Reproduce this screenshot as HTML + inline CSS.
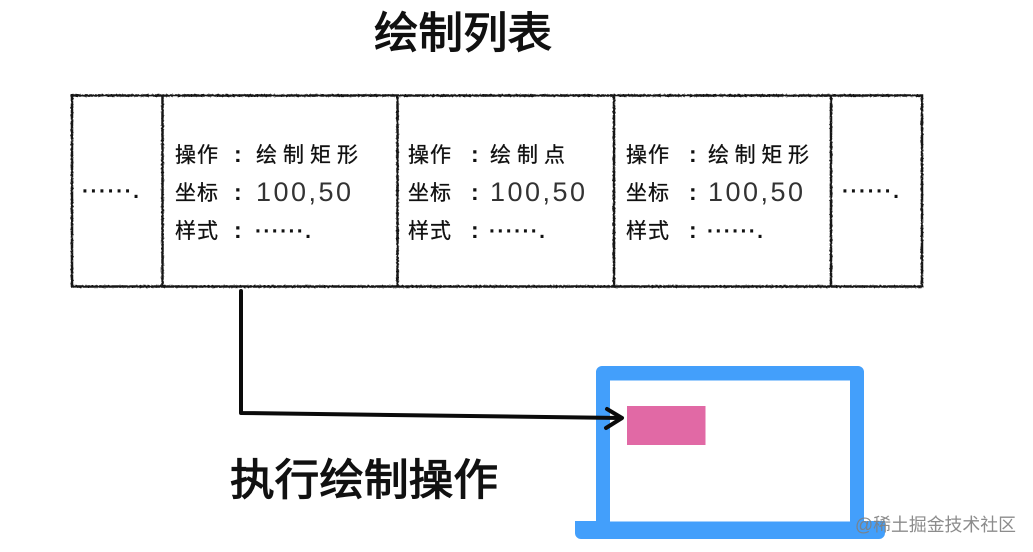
<!DOCTYPE html>
<html lang="zh">
<head>
<meta charset="utf-8">
<style>
html,body{margin:0;padding:0;background:#fff;width:1033px;height:552px;overflow:hidden}
svg{display:block}
text{font-family:"Liberation Sans","Noto Sans CJK SC","WenQuanYi Zen Hei",sans-serif;fill:#111}
.t{font-size:43px;font-weight:400;stroke:#111;stroke-width:1.2px}
.c{font-size:21px;stroke:#111;stroke-width:.3px}
.k{font-size:23px;font-weight:700}
.n{font-size:27px;font-weight:400;fill:#333}
.d{font-size:21px;font-weight:700}
</style>
</head>
<body>
<svg width="1033" height="552" viewBox="0 0 1033 552" xmlns="http://www.w3.org/2000/svg">
<defs>
<filter id="rough" x="-2%" y="-2%" width="104%" height="104%">
<feTurbulence type="fractalNoise" baseFrequency="0.5" numOctaves="2" seed="3"/>
<feDisplacementMap in="SourceGraphic" scale="2"/>
</filter>
</defs>
<rect width="1033" height="552" fill="#fff"/>

<text class="t" x="374" y="48" textLength="178" lengthAdjust="spacingAndGlyphs">绘制列表</text>

<g filter="url(#rough)" fill="none" stroke="#151515" stroke-width="2.5">
<rect x="72" y="95.500" width="850" height="191"/>
<path d="M162.500 95V287M397.500 95V287M614 95V287M831 95V287"/>
</g>

<text class="d" x="82" y="198" textLength="57">······.</text>
<text class="d" x="842" y="198" textLength="57">······.</text>

<g>
<text class="c" x="175" y="162" textLength="43">操作</text>
<text class="k" x="234" y="162">:</text>
<text class="c" x="256" y="162" textLength="102">绘制矩形</text>
<text class="c" x="175" y="200" textLength="43">坐标</text>
<text class="k" x="234" y="200">:</text>
<text class="n" x="256" y="201" textLength="95">100,50</text>
<text class="c" x="175" y="238" textLength="43">样式</text>
<text class="k" x="234" y="238">:</text>
<text class="d" x="255" y="238" textLength="56">······.</text>
</g>
<g>
<text class="c" x="408" y="162" textLength="43">操作</text>
<text class="k" x="471" y="162">:</text>
<text class="c" x="490" y="162" textLength="75">绘制点</text>
<text class="c" x="408" y="200" textLength="43">坐标</text>
<text class="k" x="471" y="200">:</text>
<text class="n" x="490" y="201" textLength="95">100,50</text>
<text class="c" x="408" y="238" textLength="43">样式</text>
<text class="k" x="471" y="238">:</text>
<text class="d" x="489" y="238" textLength="56">······.</text>
</g>
<g>
<text class="c" x="626" y="162" textLength="43">操作</text>
<text class="k" x="689" y="162">:</text>
<text class="c" x="708" y="162" textLength="101">绘制矩形</text>
<text class="c" x="626" y="200" textLength="43">坐标</text>
<text class="k" x="689" y="200">:</text>
<text class="n" x="708" y="201" textLength="95">100,50</text>
<text class="c" x="626" y="238" textLength="43">样式</text>
<text class="k" x="689" y="238">:</text>
<text class="d" x="707" y="238" textLength="56">······.</text>
</g>

<path d="M596 521V372a6 6 0 0 1 6-6H858a6 6 0 0 1 6 6V521H885V533a6 6 0 0 1-6 6H581a6 6 0 0 1-6-6V521Z" fill="#439ffb"/>
<rect x="610" y="380.500" width="240" height="141" fill="#fff"/>
<rect x="627" y="406" width="78.500" height="39" fill="#e169a5"/>

<g fill="none" stroke="#0b0b0b" stroke-width="4" stroke-linecap="round" stroke-linejoin="round">
<path d="M241 291V413L621 418"/>
<path d="M607 409L622 418L606 428"/>
</g>

<text class="t" x="230" y="495" textLength="268" lengthAdjust="spacingAndGlyphs">执行绘制操作</text>

<text x="855" y="531" textLength="161" lengthAdjust="spacingAndGlyphs" style="font-size:18px;fill:#808080;fill-opacity:.9">@稀土掘金技术社区</text>
</svg>
</body>
</html>
